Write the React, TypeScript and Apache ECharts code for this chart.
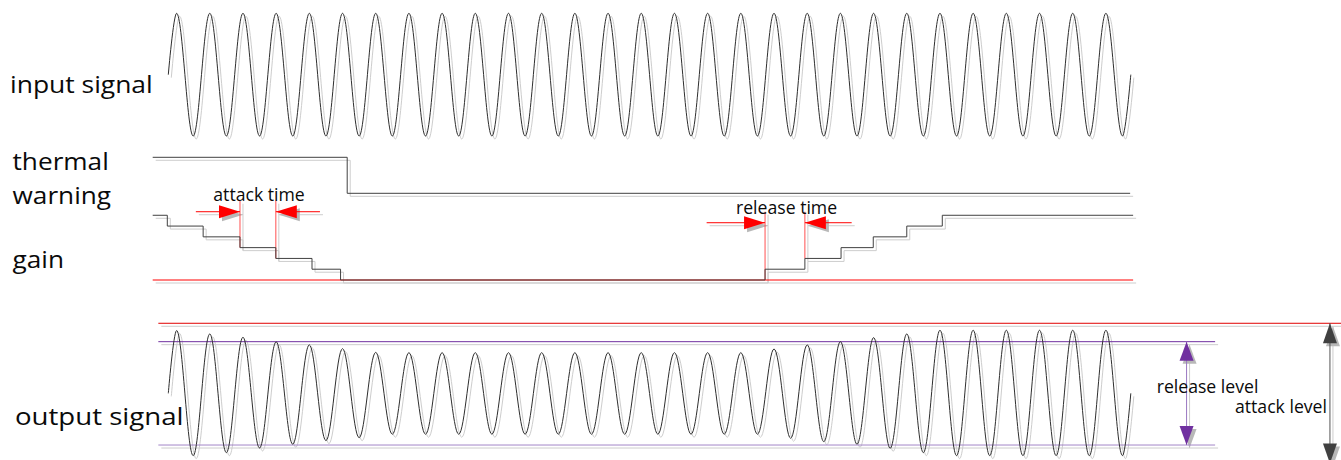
import React, { useEffect, useRef } from "react";
import * as echarts from "echarts";

// ---------- data (x in signal cycles, y in each panel's own units) ----------
const inputPeaks = [1, 1, 1, 1, 1, 1, 1, 1, 1, 1, 1, 1, 1, 1, 1, 1, 1, 1, 1, 1, 1, 1, 1, 1, 1, 1, 1, 1, 1];
const inputTroughs = [-1, -1, -1, -1, -1, -1, -1, -1, -1, -1, -1, -1, -1, -1, -1, -1, -1, -1, -1, -1, -1, -1, -1, -1, -1, -1, -1, -1, -1];

const outputPeaks = [
  1.0, 0.946, 0.893, 0.82, 0.772, 0.712, 0.653,
  0.648, 0.648, 0.648, 0.648, 0.648, 0.648, 0.648, 0.648, 0.648, 0.648, 0.648,
  0.707, 0.771, 0.823, 0.887, 0.946,
  1.005, 1.005, 1.005, 1.005, 1.005, 1.005,
];
const outputTroughs = [
  -0.992, -0.944, -0.87, -0.81, -0.753, -0.706,
  -0.651, -0.651, -0.651, -0.651, -0.651, -0.651, -0.651, -0.651, -0.651, -0.651, -0.651, -0.651,
  -0.715, -0.769, -0.81, -0.874, -0.944,
  -0.992, -0.992, -0.992, -0.992, -0.992, -0.992,
];

const thermalTimes = [-0.47, 5.39, 28.98];
const thermalLevels = [1, 0, 0];

const gainTimes = [-0.47, -0.03, 1.05, 2.16, 3.24, 4.33, 5.19, 17.98, 19.18, 20.27, 21.24, 22.25, 23.32, 29.07];
const gainLevels = [0, -1, -2, -3, -4, -5, -6, -5, -4, -3, -2, -1, 0, 0];

const gainFloor = [[-0.47, -6, 29.07, -6]];
const attackMarkers = [[2.16, 1.35, 2.16, -3], [3.24, 1.35, 3.24, -4]];
const releaseMarkers = [[17.98, 0.33, 17.98, -6], [19.18, 0.33, 19.18, -4]];
const timeArrows = [
  [0.83, 0.33, 2.16, 0.33, 1],
  [4.57, 0.33, 3.24, 0.33, 1],
  [16.22, -0.69, 17.98, -0.69, 1],
  [20.59, -0.69, 19.18, -0.69, 1],
];

const attackLevelLine = [[-0.3, 1.116, 35.5, 1.116]];
const releaseLevelUpper = [[-0.3, 0.823, 31.54, 0.823]];
const releaseLevelLower = [[-0.3, -0.823, 31.54, -0.823]];
const releaseLevelArrow = [[30.68, 0.823, 30.68, -0.823, 2]];
const attackLevelArrow = [[35.0, 1.116, 35.0, -1.116, 2]];

const labels = [
  { text: "input signal", x: 10, base: 91.7, size: 23, sx: 1.15 },
  { text: "thermal", x: 12.5, base: 168.3, size: 23, sx: 1.14 },
  { text: "warning", x: 12.5, base: 202.5, size: 23, sx: 1.14 },
  { text: "gain", x: 12.5, base: 266.5, size: 23, sx: 1.14 },
  { text: "output signal", x: 15, base: 423.3, size: 23, sx: 1.2 },
  { text: "attack time", x: 213.3, base: 200, size: 18, sx: 0.98 },
  { text: "release time", x: 736, base: 213.3, size: 18, sx: 0.98 },
  { text: "release level", x: 1156.7, base: 391.7, size: 18, sx: 0.98 },
  { text: "attack level", x: 1235, base: 411.7, size: 18, sx: 0.98 },
];

// ---------- layout ----------
const W = 1341;
const H = 460;
const XMIN = -5.0708;
const XMAX = 35.333;
const PANELS = [
  { top: 13.3, height: 122.7, min: -1, max: 1 },
  { top: 157.3, height: 36, min: 0, max: 1 },
  { top: 199.1, height: 80.9, min: -6, max: 1.5 },
  { top: 318, height: 150.7, min: -1.2, max: 1.2 },
];
const SH = 4; // offset of shadow panels
const SDX = 3;
const SDY = 3;
const SHADOW = "#cdcdcd";
const SHADOW_HEAD = "#b8b8b8";

function wave(peaks: number[], troughs: number[]) {
  const pts: number[][] = [[0, 0]];
  for (let k = 0; k < peaks.length; k++) {
    pts.push([k + 0.25, peaks[k]]);
    pts.push([k + 0.75, troughs[k]]);
  }
  pts.push([peaks.length, 0]);
  return pts;
}

function zip(xs: number[], ys: number[]) {
  return xs.map((x, i) => [x, ys[i]]);
}

function lineSeries(idx: number, data: number[][], color: string, z: number, extra: any = {}) {
  return {
    type: "line",
    xAxisIndex: idx,
    yAxisIndex: idx,
    data,
    symbol: "none",
    showSymbol: false,
    clip: false,
    silent: true,
    z,
    lineStyle: { color, width: 1 },
    itemStyle: { color },
    ...extra,
  };
}

function segSeries(idx: number, rows: number[][], color: string, width: number, z: number) {
  return {
    type: "custom",
    coordinateSystem: "cartesian2d",
    xAxisIndex: idx,
    yAxisIndex: idx,
    data: rows,
    silent: true,
    z,
    renderItem: (_p: any, api: any) => {
      const a = api.coord([api.value(0), api.value(1)]);
      const b = api.coord([api.value(2), api.value(3)]);
      return {
        type: "line",
        shape: { x1: a[0], y1: a[1], x2: b[0], y2: b[1] },
        style: { stroke: color, lineWidth: width, fill: null },
      };
    },
  };
}

function arrowSeries(
  idx: number,
  rows: number[][],
  lineColor: string,
  headColor: string,
  headLen: number,
  headW: number,
  z: number
) {
  return {
    type: "custom",
    coordinateSystem: "cartesian2d",
    xAxisIndex: idx,
    yAxisIndex: idx,
    data: rows,
    silent: true,
    z,
    renderItem: (_p: any, api: any) => {
      const a = api.coord([api.value(0), api.value(1)]);
      const b = api.coord([api.value(2), api.value(3)]);
      const heads = api.value(4);
      const dx = b[0] - a[0];
      const dy = b[1] - a[1];
      const len = Math.hypot(dx, dy) || 1;
      const ux = dx / len;
      const uy = dy / len;
      const head = (tx: number, ty: number, dirx: number, diry: number) => {
        const bx = tx - dirx * headLen;
        const by = ty - diry * headLen;
        const px = -diry * (headW / 2);
        const py = dirx * (headW / 2);
        return {
          type: "polygon",
          shape: { points: [[tx, ty], [bx + px, by + py], [bx - px, by - py]] },
          style: { fill: headColor, stroke: null },
        };
      };
      const children: any[] = [
        {
          type: "line",
          shape: { x1: a[0], y1: a[1], x2: b[0], y2: b[1] },
          style: { stroke: lineColor, lineWidth: 1, fill: null },
        },
        head(b[0], b[1], ux, uy),
      ];
      if (heads === 2) children.push(head(a[0], a[1], -ux, -uy));
      return { type: "group", children };
    },
  };
}

function buildSeries() {
  const s: any[] = [];
  const both = (fn: (idx: number, shadow: boolean) => any, idx: number) => {
    s.push(fn(idx + SH, true));
    s.push(fn(idx, false));
  };
  const inputWave = wave(inputPeaks, inputTroughs);
  const outputWave = wave(outputPeaks, outputTroughs);
  both((i, sh) => lineSeries(i, inputWave, sh ? SHADOW : "#2e2e2e", sh ? 1 : 5, { smooth: 0.36 }), 0);
  both((i, sh) => lineSeries(i, zip(thermalTimes, thermalLevels), sh ? SHADOW : "#404040", sh ? 1 : 5, { step: "end" }), 1);
  both((i, sh) => segSeries(i, gainFloor, sh ? SHADOW : "#ff0000", 1, sh ? 1 : 3), 2);
  both((i, sh) => segSeries(i, attackMarkers, sh ? SHADOW : "#ff5050", 1, sh ? 1 : 4), 2);
  both((i, sh) => segSeries(i, releaseMarkers, sh ? SHADOW : "#ff5050", 1, sh ? 1 : 4), 2);
  both((i, sh) => lineSeries(i, zip(gainTimes, gainLevels), sh ? SHADOW : "#404040", sh ? 1 : 5, { step: "end" }), 2);
  both((i, sh) => arrowSeries(i, timeArrows, sh ? SHADOW : "#ff0000", sh ? SHADOW_HEAD : "#ff0000", 21, 13, sh ? 1 : 6), 2);
  both((i, sh) => segSeries(i, attackLevelLine, sh ? SHADOW : "#e00000", 1, sh ? 1 : 3), 3);
  both((i, sh) => segSeries(i, releaseLevelUpper, sh ? SHADOW : "#7030a0", 1, sh ? 1 : 3), 3);
  both((i, sh) => segSeries(i, releaseLevelLower, sh ? SHADOW : "#a385c8", 1, sh ? 1 : 3), 3);
  both((i, sh) => lineSeries(i, outputWave, sh ? SHADOW : "#2e2e2e", sh ? 1 : 5, { smooth: 0.36 }), 3);
  both((i, sh) => arrowSeries(i, releaseLevelArrow, sh ? SHADOW : "#9a78c2", sh ? SHADOW_HEAD : "#7030a0", 19, 14, sh ? 1 : 6), 3);
  both((i, sh) => arrowSeries(i, attackLevelArrow, sh ? SHADOW : "#555555", sh ? SHADOW_HEAD : "#404040", 20, 14, sh ? 1 : 6), 3);
  return s;
}

export default function App() {
  const ref = useRef<HTMLDivElement>(null);
  useEffect(() => {
    if (!ref.current) return;
    const chart = echarts.init(ref.current, undefined, { renderer: "svg", width: W, height: H });
    const grids = [
      ...PANELS.map((p) => ({ left: 0, top: p.top, width: W, height: p.height, containLabel: false, outerBoundsMode: "none", show: false })),
      ...PANELS.map((p) => ({ left: SDX, top: p.top + SDY, width: W, height: p.height, containLabel: false, outerBoundsMode: "none", show: false })),
    ];
    const allPanels = [...PANELS, ...PANELS];
    const xAxis = allPanels.map((_p, i) => ({
      type: "value",
      gridIndex: i,
      min: XMIN,
      max: XMAX,
      show: false,
      splitLine: { show: false },
    }));
    const yAxis = allPanels.map((p, i) => ({
      type: "value",
      gridIndex: i,
      min: p.min,
      max: p.max,
      show: false,
      splitLine: { show: false },
    }));
    const graphic = labels.map((l) => ({
      type: "text",
      x: l.x,
      y: l.base - l.size * 0.33,
      scaleX: l.sx,
      silent: true,
      z: 10,
      style: {
        text: l.text,
        fontFamily: "Open Sans",
        fontSize: l.size,
        fill: "#0a0a0a",
        align: "left",
        verticalAlign: "middle",
      },
    }));
    chart.setOption({
      animation: false,
      backgroundColor: "#ffffff",
      grid: grids,
      xAxis,
      yAxis,
      series: buildSeries(),
      graphic,
    });
    return () => chart.dispose();
  }, []);
  return (
    <div
      ref={ref}
      style={{ position: "fixed", left: 0, top: 0, width: W, height: H, background: "#fff" }}
    />
  );
}
